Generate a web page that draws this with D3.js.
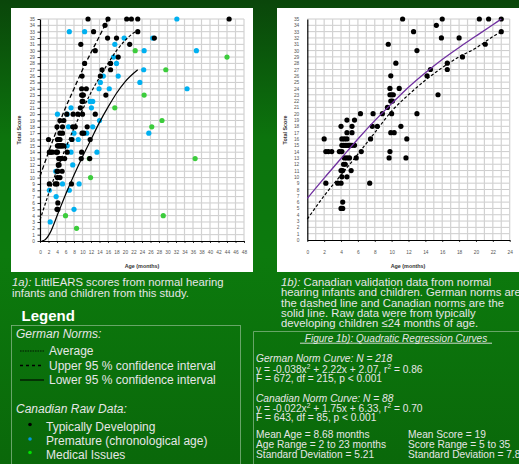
<!DOCTYPE html>
<html>
<head>
<meta charset="utf-8">
<script src="https://cdn.jsdelivr.net/npm/d3@7"></script>
<style>
  html, body { margin: 0; padding: 0; width: 519px; height: 464px; overflow: hidden; background: #0a6a0a; }
  svg { display: block; }
</style>
</head>
<body>
<svg id="page" width="519" height="464"></svg>
<script>
'use strict';

// ---- data: [age in months, total score] ----
var typicalDeveloping = [
  [11.3, 35], [16, 35], [20.4, 35], [21.5, 35], [23, 35],
  [15.3, 34], [12.6, 33], [23, 33], [15.9, 32], [18, 32],
  [9.6, 31], [21.1, 31], [13, 30], [18.4, 29], [10.5, 28], [16.6, 28],
  [14.6, 27], [16.6, 27], [9.9, 26], [14.2, 26], [9.8, 24], [10.9, 24],
  [9.8, 23], [10, 23], [10.2, 23], [15.5, 23], [9.9, 22], [10.1, 22], [9.5, 21],
  [6.3, 20], [7.8, 20], [8.9, 20], [10, 20], [13, 20],
  [4.7, 19], [5.6, 19],
  [4, 18], [5.3, 18], [7.7, 18], [8.3, 18], [11.1, 18],
  [4.7, 17], [5.3, 17], [9.9, 17], [10.3, 17],
  [2, 16], [4.1, 16], [4.4, 16], [4.7, 16], [7.5, 16], [11.8, 16],
  [4.1, 15], [4.3, 15], [4.5, 15], [4.7, 15], [4.9, 15], [5.1, 15], [5.3, 15], [5.6, 15],
  [2.2, 14], [2.5, 14], [2.9, 14], [3.8, 14], [4.1, 14], [6.4, 14], [9.8, 14],
  [4.4, 13], [4.7, 13], [5, 13], [5.8, 13], [9.7, 13], [11.7, 13],
  [4.3, 12], [4.5, 12], [4, 11], [4.2, 11], [5.2, 11], [4.1, 10], [4.7, 10],
  [2.2, 9], [3.6, 9], [4, 9], [7.4, 9], [4.2, 6], [4, 5], [4.2, 5]
];
var typicalOlder = [[26.9, 32], [44.5, 35]];

var premature = [
  [32.2, 35], [6.9, 33], [10.5, 33], [19.8, 32], [26.5, 32], [17.6, 31],
  [24.5, 30], [36.8, 30], [17.3, 29], [18, 28], [24.4, 27], [14.9, 26], [18.4, 26],
  [14.2, 25], [23.5, 25], [13.9, 24], [16.3, 24], [34.6, 24], [11.8, 22], [12.4, 22],
  [7.3, 21], [12.1, 21], [4.1, 20], [6.4, 20], [14, 19], [6.7, 18], [12.4, 18],
  [8, 17], [11, 17], [25.6, 17], [7.5, 16], [9, 16], [6.4, 15], [7.3, 14], [13.4, 14],
  [7.7, 12], [3.7, 11], [5.3, 9], [9.2, 9], [2.2, 8], [6.9, 8], [3.8, 7], [8, 5], [2.4, 3]
];

var medicalIssues = [
  [22.4, 30], [44, 29], [29.6, 27], [24.5, 23], [17.6, 21], [28.7, 19], [26.3, 18],
  [36.5, 13], [11.6, 13], [11.9, 10], [6, 4], [29, 4], [8.6, 2]
];

// norm curves
var germanUpper = [[0, 10.2], [2, 14], [4, 17.6], [6, 21], [8, 24], [10, 27], [12, 29.7], [14, 32.3], [16, 35]];
var germanAverage = [[0, 3.3], [2, 7.4], [4, 11.2], [6, 14.6], [8, 17.8], [10, 20.7], [12, 23.4], [14, 25.8],
  [16, 28], [18, 30], [20, 31.6], [22, 32.8], [23, 33.2]];
var germanLower = [[0.4, 0], [1.2, 0.2], [2.3, 1.2], [4.2, 4.3], [6, 7.3], [8, 10.4], [10, 13.3], [12, 16],
  [14, 18.7], [16, 21.1], [18, 23.3], [20, 25.1], [23, 27]];
var germanNormRight = [[0, 3.3], [2, 7], [4, 10.3], [6, 13.6], [8, 17], [10, 20.4], [12, 23], [14, 25.3],
  [16, 27.3], [18, 29], [20, 30.4], [22, 32.2], [23, 33]];
var canadianNorm = [[0, 6.6], [2, 9.8], [4, 12.9], [6, 16], [8, 18.9], [10, 21.6], [12, 24.2], [14, 26.5],
  [16, 28.6], [18, 30.5], [20, 32.3], [22, 34.1], [23, 35]];

var scoreTicks = d3.range(0, 36);
var leftAgeTicks = d3.range(0, 49, 2);
var rightAgeTicks = d3.range(0, 25, 2);

var BLACK = '#000', BLUE = '#00b0f0', GREEN = '#3ccc3c', PURPLE = '#7030a0';
var TEXT = '#e6e6e6';
var SANS = '"Liberation Sans", Arial, sans-serif';

var svg = d3.select('#page');

// background
var defs = svg.append('defs');
var grad = defs.append('linearGradient').attr('id', 'bg').attr('x1', 0).attr('y1', 0).attr('x2', 0).attr('y2', 1);
grad.append('stop').attr('offset', '0%').attr('stop-color', '#0a460a');
grad.append('stop').attr('offset', '30%').attr('stop-color', '#0c740d');
grad.append('stop').attr('offset', '55%').attr('stop-color', '#0c7a0d');
grad.append('stop').attr('offset', '100%').attr('stop-color', '#0a680a');
svg.append('rect').attr('width', 519).attr('height', 464).attr('fill', 'url(#bg)');

function drawChart(cfg) {
  var g = svg.append('g');
  g.append('rect').attr('x', cfg.panel[0]).attr('y', cfg.panel[1])
    .attr('width', cfg.panel[2]).attr('height', cfg.panel[3]).attr('fill', '#fff');

  var x = d3.scaleLinear().domain([0, cfg.maxAge]).range([cfg.left, cfg.right]);
  var y = d3.scaleLinear().domain([0, 35]).range([cfg.bottom, cfg.top]);

  g.append('g').selectAll('line').data(scoreTicks.slice(1)).join('line')
    .attr('x1', x(0)).attr('x2', x(cfg.maxAge))
    .attr('y1', function (d) { return y(d); }).attr('y2', function (d) { return y(d); })
    .attr('stroke', '#c6c6c6').attr('stroke-width', 0.9);
  g.append('g').selectAll('line').data(cfg.gridAges).join('line')
    .attr('x1', function (d) { return x(d); }).attr('x2', function (d) { return x(d); })
    .attr('y1', y(0)).attr('y2', y(35))
    .attr('stroke', '#d2d2d2').attr('stroke-width', 1.2);

  function styleAxis(s) {
    s.attr('font-family', SANS).attr('font-size', 4.8);
    s.select('.domain').attr('stroke', '#000').attr('stroke-width', 1.2);
    s.selectAll('.tick line').attr('stroke', '#000').attr('stroke-width', 0.8);
    s.selectAll('.tick text').attr('fill', '#555');
  }

  g.append('g').attr('transform', 'translate(' + x(0) + ',0)')
    .call(d3.axisLeft(y).tickValues(scoreTicks).tickSize(cfg.yTick).tickSizeOuter(0).tickPadding(cfg.yPad))
    .call(styleAxis);
  g.append('g').attr('transform', 'translate(0,' + y(0) + ')')
    .call(d3.axisBottom(x).tickValues(cfg.ageTicks).tickSize(2).tickSizeOuter(0).tickPadding(cfg.xPad))
    .call(styleAxis);

  g.append('text').attr('transform', 'translate(' + cfg.yTitleX + ',130) rotate(-90)')
    .attr('text-anchor', 'middle').attr('font-family', SANS).attr('font-size', 5.4)
    .attr('font-weight', 'bold').attr('fill', '#333').text('Total Score');
  g.append('text').attr('x', cfg.xTitleX).attr('y', 268)
    .attr('text-anchor', 'middle').attr('font-family', SANS).attr('font-size', 5.4)
    .attr('font-weight', 'bold').attr('fill', '#333').text('Age (months)');

  cfg.series.forEach(function (s) {
    g.append('g').selectAll('circle').data(s.data).join('circle')
      .attr('cx', function (d) { return x(d[0]); })
      .attr('cy', function (d) { return y(d[1]); })
      .attr('r', 2.6).attr('fill', s.color);
  });

  var line = d3.line()
    .x(function (d) { return x(d[0]); })
    .y(function (d) { return y(d[1]); })
    .curve(d3.curveMonotoneX);
  cfg.curves.forEach(function (c) {
    g.append('path').attr('d', line(c.data)).attr('fill', 'none')
      .attr('stroke', c.color).attr('stroke-width', c.width)
      .attr('stroke-dasharray', c.dash || null);
  });
}

drawChart({
  panel: [11, 8, 242, 264],
  maxAge: 48, left: 40, right: 244, top: 19, bottom: 241,
  gridAges: leftAgeTicks.slice(1), ageTicks: leftAgeTicks,
  yTick: 2.5, yPad: 2.5, xPad: 7.5, yTitleX: 21, xTitleX: 142,
  series: [
    { data: medicalIssues, color: GREEN },
    { data: premature, color: BLUE },
    { data: typicalDeveloping.concat(typicalOlder), color: BLACK }
  ],
  curves: [
    { data: germanUpper, color: BLACK, width: 1.3, dash: '4.5,2.5' },
    { data: germanAverage, color: BLACK, width: 1.2, dash: '3,2' },
    { data: germanLower, color: BLACK, width: 1.2 }
  ]
});

drawChart({
  panel: [277, 8, 242, 264],
  maxAge: 24, left: 307.3, right: 509.7, top: 19, bottom: 240,
  gridAges: d3.range(1, 25), ageTicks: rightAgeTicks,
  yTick: 0, yPad: 8, xPad: 8.5, yTitleX: 287, xTitleX: 408,
  series: [{ data: typicalDeveloping, color: BLACK }],
  curves: [
    { data: germanNormRight, color: BLACK, width: 1.2, dash: '3,2' },
    { data: canadianNorm, color: PURPLE, width: 1.3 }
  ]
});

// ---- captions ----
function textLines(x, baselines, lines, size) {
  var t = svg.append('text').attr('font-family', SANS).attr('font-size', size).attr('fill', TEXT);
  lines.forEach(function (ln, i) {
    var row = t.append('tspan').attr('x', x).attr('y', baselines[i]);
    ln.forEach(function (part) {
      var sp = row.append('tspan').text(part.t);
      if (part.i) sp.attr('font-style', 'italic');
      if (part.sup) sp.attr('font-size', size * 0.65).attr('dy', -size * 0.35);
      if (part.down) sp.attr('dy', size * 0.35);
    });
  });
  return t;
}

textLines(12, [286, 297], [
  [{ t: '1a):', i: true }, { t: ' LittlEARS scores from normal hearing' }],
  [{ t: 'infants and children from this study.' }]
], 11.3);

textLines(281, [286, 296.3, 306.5, 316.7, 327], [
  [{ t: '1b):', i: true }, { t: ' Canadian validation data from normal' }],
  [{ t: 'hearing infants and children. German norms are' }],
  [{ t: 'the dashed line and Canadian norms are the' }],
  [{ t: 'solid line. Raw data were from typically' }],
  [{ t: 'developing children \u226424 months of age.' }]
], 11.3);

// ---- legend ----
svg.append('text').attr('x', 21.5).attr('y', 321).attr('font-family', SANS)
  .attr('font-size', 15).attr('font-weight', 'bold').attr('fill', '#fff').text('Legend');
svg.append('rect').attr('x', 11.5).attr('y', 325.5).attr('width', 229).attr('height', 160)
  .attr('fill', 'none').attr('stroke', '#7fb27f').attr('stroke-width', 0.8);

var legendLines = [
  { label: 'Average', y: 351, dash: '1.6,0.9', width: 0.8 },
  { label: 'Upper 95 % confidence interval', y: 365.5, dash: '3,3', width: 1.3 },
  { label: 'Lower 95 % confidence interval', y: 380, dash: null, width: 1.1 }
];
var legendDots = [
  { label: 'Typically Developing', y: 424.5, color: '#000' },
  { label: 'Premature (chronological age)', y: 439, color: '#0099e0' },
  { label: 'Medical Issues', y: 452.5, color: '#00e000' }
];

svg.append('text').attr('x', 16).attr('y', 338).attr('font-family', SANS).attr('font-size', 12)
  .attr('font-style', 'italic').attr('fill', TEXT).text('German Norms:');
legendLines.forEach(function (d) {
  svg.append('line').attr('x1', 20).attr('x2', 44).attr('y1', d.y).attr('y2', d.y)
    .attr('stroke', '#000').attr('stroke-width', d.width).attr('stroke-dasharray', d.dash);
  svg.append('text').attr('x', 49).attr('y', d.y + 4).attr('font-family', SANS).attr('font-size', 12)
    .attr('fill', TEXT).text(d.label);
});
svg.append('text').attr('x', 16).attr('y', 413).attr('font-family', SANS).attr('font-size', 12)
  .attr('font-style', 'italic').attr('fill', TEXT).text('Canadian Raw Data:');
legendDots.forEach(function (d) {
  svg.append('circle').attr('cx', 30).attr('cy', d.y).attr('r', 1.8).attr('fill', d.color);
  svg.append('text').attr('x', 46).attr('y', d.y + 6).attr('font-family', SANS).attr('font-size', 12)
    .attr('fill', TEXT).text(d.label);
});

// ---- regression box ----
svg.append('path').attr('d', 'M253.5,480V331.5H519').attr('fill', 'none')
  .attr('stroke', '#7fb27f').attr('stroke-width', 0.8);
svg.append('text').attr('x', 396).attr('y', 342).attr('text-anchor', 'middle')
  .attr('font-family', SANS).attr('font-size', 10).attr('font-style', 'italic')
  .attr('fill', TEXT).text('Figure 1b): Quadratic Regression Curves');
svg.append('line').attr('x1', 300).attr('x2', 492).attr('y1', 343.2).attr('y2', 343.2)
  .attr('stroke', TEXT).attr('stroke-width', 0.9);

textLines(256, [362, 372.5, 381.5], [
  [{ t: 'German Norm Curve: N = 218', i: true }],
  [{ t: 'y = -0.038x' }, { t: '2', sup: true }, { t: ' + 2.22x + 2.07, r', down: true }, { t: '2', sup: true }, { t: ' = 0.86', down: true }],
  [{ t: 'F = 672, df = 215, p < 0.001' }]
], 10.2);
textLines(256, [402, 411.5, 421], [
  [{ t: 'Canadian Norm Curve: N = 88', i: true }],
  [{ t: 'y = -0.022x' }, { t: '2', sup: true }, { t: ' + 1.75x + 6.33, r', down: true }, { t: '2', sup: true }, { t: ' = 0.70', down: true }],
  [{ t: 'F = 643, df = 85, p < 0.001' }]
], 10.2);

var statsLeft = ['Mean Age = 8.68 months', 'Age Range = 2 to 23 months', 'Standard Deviation = 5.21'];
var statsRight = ['Mean Score = 19', 'Score Range = 5 to 35', 'Standard Deviation = 7.8'];
textLines(256, [438, 448, 457.5], statsLeft.map(function (s) { return [{ t: s }]; }), 10.2);
textLines(408, [438, 448, 457.5], statsRight.map(function (s) { return [{ t: s }]; }), 10.2);
</script>
</body>
</html>
